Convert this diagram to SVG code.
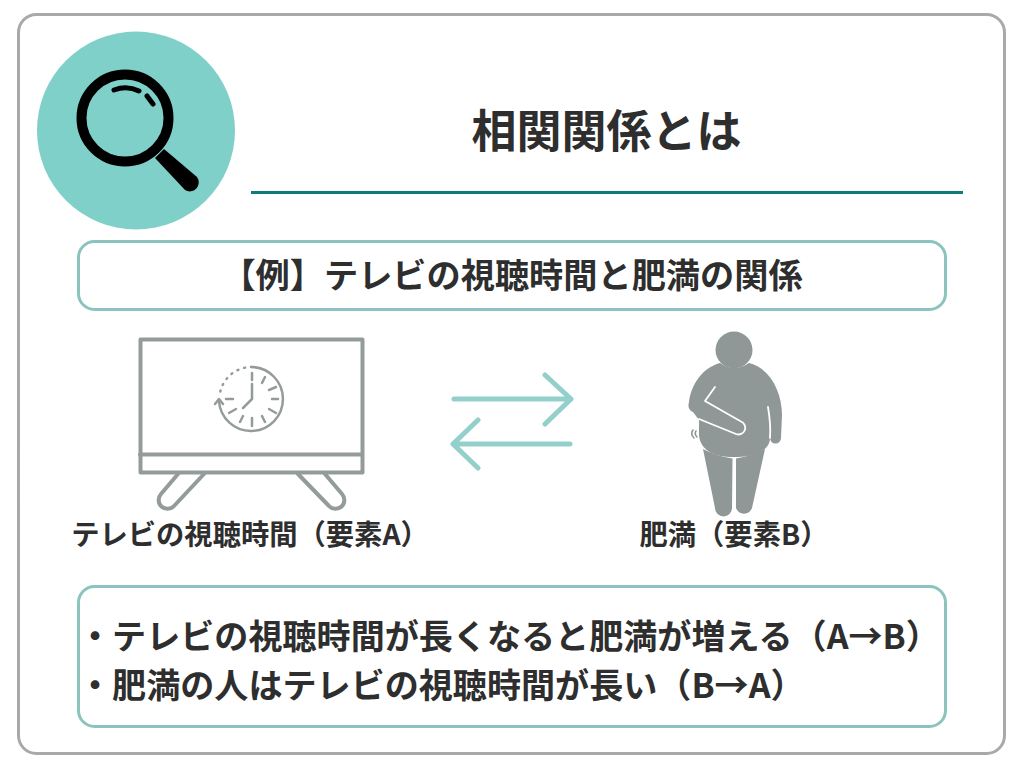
<svg xmlns="http://www.w3.org/2000/svg" width="1024" height="768" viewBox="0 0 1024 768">
<style>
text{font-family:"Noto Sans CJK JP","Noto Sans",sans-serif;font-weight:700;fill:#2e2e2e}
.box{fill:#fff;stroke:#8bc4bf;stroke-width:3}
.g{fill:none;stroke:#949c9b;stroke-linecap:round;stroke-linejoin:round}
.a{fill:none;stroke:#93d0cb;stroke-width:5;stroke-linecap:round;stroke-linejoin:round}
.w{fill:none;stroke:#fff;stroke-width:1.800;stroke-linecap:round;stroke-linejoin:round}
.gf{fill:#8f9897}
</style>
<rect width="1024" height="768" fill="#fff"/>
<rect id="frame" x="18.500" y="14.500" width="986" height="739" rx="18" fill="#fff" stroke="#a9a9a9" stroke-width="3"/>
<g id="icon-search">
<circle cx="136" cy="130.500" r="99" fill="#80d0ca"/>
<circle cx="125" cy="118" r="43.500" fill="none" stroke="#000" stroke-width="10"/>
<path d="M155,158L164,149L197,177A9,9 0 0 1 185,190Z" fill="#000"/>
<path d="M114,90Q127,85 139,91M147,96L153,104" fill="none" stroke="#000" stroke-width="5" stroke-linecap="round"/>
</g>
<g id="title">
<text x="606.500" y="147.500" font-size="45" text-anchor="middle">相関関係とは</text>
<line x1="251" y1="192.500" x2="963" y2="192.500" stroke="#0e7c7b" stroke-width="3"/>
</g>
<g id="example">
<rect class="box" x="78.500" y="241.500" width="867" height="68" rx="16"/>
<text x="512" y="288" font-size="34.200" text-anchor="middle">【例】テレビの視聴時間と肥満の関係</text>
</g>
<g id="tv">
<rect class="g" x="140.500" y="339.500" width="222" height="133" stroke-width="4"/>
<line class="g" x1="140" y1="454.500" x2="362" y2="454.500" stroke-width="4"/>
<path class="g" stroke-width="4" d="M178,474L161,494A8.500,8.500 0 0 0 174,506L204,474M298,474L329,506A8.500,8.500 0 0 0 342,494L325,474"/>
<g class="g" stroke-width="2.500">
<path d="M252,367A32,32 0 1 1 219,401"/>
<path d="M215,404L219,399L223,404"/>
<path d="M252,367A32,32 0 0 0 220,393" stroke-dasharray="1 6"/>
<path d="M252,373V380M265,377L262,383M276,387L269,390M278,399H272M276,413L269,409M265,422L262,416M252,426V418M240,422L243,416M229,413L236,409M226,399H233"/>
<path d="M252,384V399L243,408"/>
</g>
</g>
<g id="person">
<circle class="gf" cx="734" cy="350" r="18.500"/>
<path class="gf" d="M720,363Q734,373 749,363C770,368 782,392 782,415L781,438A5.500,5.500 0 0 1 770,438L768,407Q771,425 770,438C770,452 752,457 733,457C714,457 700,450 699,435L699,420L693,412C688,410 688,405 689,402C691,385 702,368 720,363Z"/>
<path class="gf" d="M703,449Q716,456 732.500,458.500L732,508A8.500,8.500 0 0 1 715,508ZM736,458.500Q752,456 765,449L752,508A8.500,8.500 0 0 1 736,508Z"/>
<path class="gf" d="M689,405L733,433A7,7 0 0 0 742,421L710,400Z"/>
<path class="w" d="M715,387L705,401L741,421.500A6.500,6.500 0 0 1 736,434L699,419"/>
<path class="w" d="M768,407Q771,425 770,438"/>
<path d="M748,417Q754,420 751,425M751,414Q759,419 754,428M693,430Q690,434 694,438M696,431Q694,434 697,437" fill="none" stroke="#8f9897" stroke-width="1.600" stroke-linecap="round"/>
</g>
<g id="connectors">
<path class="a" d="M454,399H571M545,375L571,399L545,424"/>
<path class="a" d="M570,444H453M478,420L453,444L478,468"/>
</g>
<g id="labels">
<text x="250" y="544.500" font-size="28.300" text-anchor="middle">テレビの視聴時間（要素A）</text>
<text x="734" y="544.500" font-size="28.300" text-anchor="middle">肥満（要素B）</text>
</g>
<g id="notes">
<rect class="box" x="78.500" y="586.500" width="867" height="140" rx="16"/>
<text x="78" y="649" font-size="34.100">・テレビの視聴時間が長くなると肥満が増える（A→B）</text>
<text x="78" y="698" font-size="34.100">・肥満の人はテレビの視聴時間が長い（B→A）</text>
</g>
</svg>
